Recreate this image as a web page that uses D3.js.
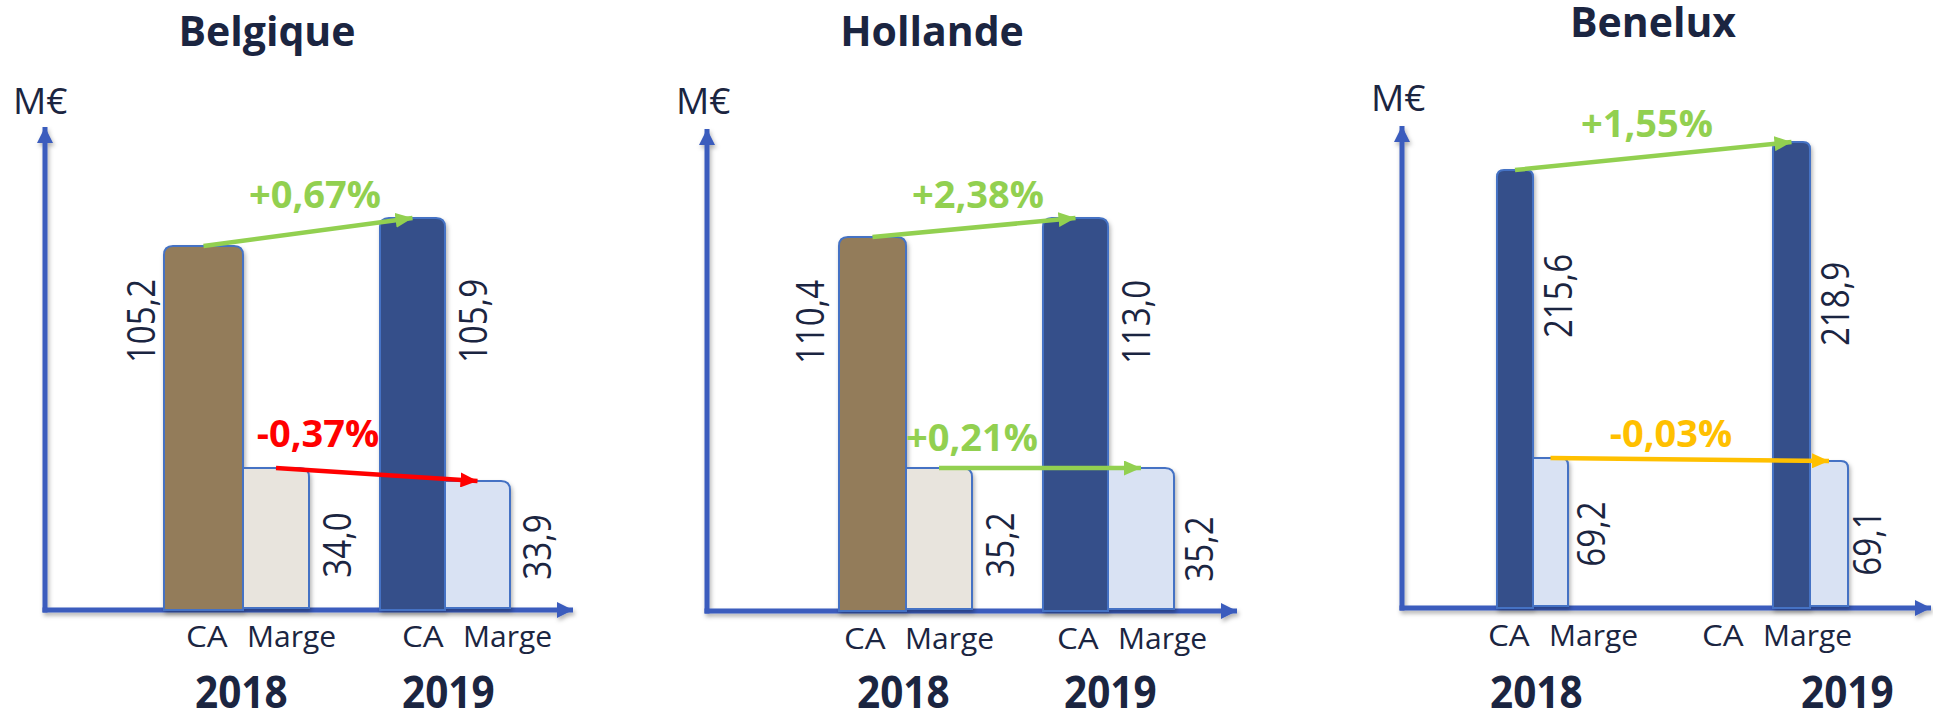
<!DOCTYPE html>
<html>
<head>
<meta charset="utf-8">
<script src="https://cdn.jsdelivr.net/npm/d3@7"></script>
<style>
  html, body { margin: 0; padding: 0; background: #fff; overflow: hidden; }
  svg { display: block; font-family: "Open Sans", "DejaVu Sans", sans-serif; }
</style>
</head>
<body>
<svg id="chart" width="1933" height="711"></svg>
<script>
// ---- data ----
var panels = ["Belgique", "Hollande", "Benelux"];
var years = ["2018", "2019"];
var series = ["CA", "Marge"];
var caValues = [[105.2, 105.9], [110.4, 113.0], [215.6, 218.9]];
var margeValues = [[34.0, 33.9], [35.2, 35.2], [69.2, 69.1]];
var caChange = ["+0,67%", "+2,38%", "+1,55%"];
var margeChange = ["-0,37%", "+0,21%", "-0,03%"];
var unit = "M€";

// ---- layout (positions only, per panel) ----
// the original is schematic: each series uses its own truncated scale
var layout = [
  {x0: 45, y0: 610, yTop: 127, xEnd: 573, titleX: 267, titleY: 46, unitX: 13, unitY: 114,
   barX: [164, 380], caW: [79, 65], mW: [66, 65], r: 9,
   caDomain: [96.1, 105.9], caTop: 218, mDomain: [32.91, 34.0], mTop: 468,
   labels: [[141, 321], [337, 545], [473, 321], [537, 547]],
   pct: [[315, 208], [318, 447]], catX: [186, 402], catY: 647, yearX: [195, 402],
   ca18: "#937c5a", m18: "#e8e4dd"},
  {x0: 707, y0: 611, yTop: 129, xEnd: 1237, titleX: 932, titleY: 46, unitX: 676, unitY: 114,
   barX: [839, 1043], caW: [67, 65], mW: [66, 66], r: 9,
   caDomain: [59.2, 113.0], caTop: 218, mDomain: [0, 35.2], mTop: 468,
   labels: [[810, 322], [1000, 545], [1136, 322], [1199, 549]],
   pct: [[978, 208], [972, 451]], catX: [844, 1057], catY: 649, yearX: [857, 1064],
   ca18: "#937c5a", m18: "#e8e4dd"},
  {x0: 1402, y0: 608, yTop: 126, xEnd: 1931, titleX: 1653, titleY: 37, unitX: 1371, unitY: 111,
   barX: [1497, 1773], caW: [36, 37], mW: [35, 38], r: 7,
   caDomain: [164.0, 218.9], caTop: 142, mDomain: [64.2, 69.2], mTop: 458,
   labels: [[1558, 296], [1591, 534], [1835, 304], [1867, 543]],
   pct: [[1647, 137], [1671, 447]], catX: [1488, 1702], catY: 646, yearX: [1490, 1801],
   ca18: "#34508a", m18: "#d9e2f3"}
];

var navy = "#34508a", lightBlue = "#d9e2f3", textCol = "#1b2541",
    axisCol = "#3a5bbd", barStroke = "#4472c4";

function changeColor(s) {
  var v = parseFloat(s.replace(",", "."));
  if (v > 0) return "#92d050";
  if (v > -0.1) return "#ffc000";
  return "#ff0000";
}

var svg = d3.select("#chart");
var defs = svg.append("defs");

var f = defs.append("filter").attr("id", "shadow")
  .attr("x", "-20%").attr("y", "-20%").attr("width", "140%").attr("height", "140%");
f.append("feDropShadow").attr("dx", 1.5).attr("dy", 3).attr("stdDeviation", 2)
  .attr("flood-color", "#000").attr("flood-opacity", 0.3);

// arrow heads
function marker(id, color, len, wid) {
  defs.append("marker").attr("id", id)
    .attr("markerUnits", "userSpaceOnUse")
    .attr("markerWidth", len).attr("markerHeight", wid)
    .attr("viewBox", "0 0 " + len + " " + wid)
    .attr("refX", len).attr("refY", wid / 2)
    .attr("orient", "auto")
    .append("path").attr("d", "M0,0L" + len + "," + (wid / 2) + "L0," + wid + "Z")
    .attr("fill", color);
}
marker("ax", axisCol, 16, 16);
["#92d050", "#ffc000", "#ff0000"].forEach(function(c) {
  marker("m" + c.slice(1), c, 17, 15);
});

function barPath(x, y, w, h, rl, rr) {
  return "M" + x + "," + (y + h) +
    "V" + (y + rl) + (rl ? "Q" + x + "," + y + " " + (x + rl) + "," + y : "") +
    "H" + (x + w - rr) + (rr ? "Q" + (x + w) + "," + y + " " + (x + w) + "," + (y + rr) : "") +
    "V" + (y + h) + "Z";
}

panels.forEach(function(name, p) {
  var L = layout[p];
  var g = svg.append("g");

  var x = d3.scalePoint().domain(years).range(L.barX);
  var yCA = d3.scaleLinear().domain(L.caDomain).range([L.y0, L.caTop]);
  var yM = d3.scaleLinear().domain(L.mDomain).range([L.y0, L.mTop]);

  // title and unit
  g.append("text").attr("x", L.titleX).attr("y", L.titleY)
    .attr("text-anchor", "middle").attr("font-size", 41).attr("font-weight", 700)
    .attr("fill", textCol).text(name);
  g.append("text").attr("x", L.unitX).attr("y", L.unitY)
    .attr("font-size", 37).attr("fill", textCol).text(unit);

  // axes
  var axes = g.append("g").attr("filter", "url(#shadow)")
    .attr("stroke", axisCol).attr("stroke-width", 5);
  axes.append("line").attr("x1", L.x0).attr("y1", L.y0 + 2.5)
    .attr("x2", L.x0).attr("y2", L.yTop).attr("marker-end", "url(#ax)");
  axes.append("line").attr("x1", L.x0 - 2.5).attr("y1", L.y0)
    .attr("x2", L.xEnd).attr("y2", L.y0).attr("marker-end", "url(#ax)");

  // bars
  var rows = years.map(function(yr, i) {
    return {year: yr, i: i, ca: caValues[p][i], m: margeValues[p][i]};
  });
  var bars = g.append("g").attr("filter", "url(#shadow)")
    .attr("stroke", barStroke).attr("stroke-width", 2);
  bars.selectAll("path.ca").data(rows).enter().append("path").attr("class", "ca")
    .attr("fill", function(d) { return d.i === 0 ? L.ca18 : navy; })
    .attr("d", function(d) {
      var top = yCA(d.ca);
      return barPath(x(d.year), top, L.caW[d.i], L.y0 - top, L.r, L.r);
    });
  bars.selectAll("path.m").data(rows).enter().append("path").attr("class", "m")
    .attr("fill", function(d) { return d.i === 0 ? L.m18 : lightBlue; })
    .attr("d", function(d) {
      var top = yM(d.m);
      return barPath(x(d.year) + L.caW[d.i], top, L.mW[d.i], L.y0 - 2 - top, 0, L.r);
    });

  // value labels
  var labelData = [];
  rows.forEach(function(d) {
    labelData.push(d.ca, d.m);
  });
  g.selectAll("text.val").data(labelData).enter().append("text").attr("class", "val")
    .attr("transform", function(d, i) {
      var c = L.labels[i];
      return "translate(" + (c[0] + 13.5) + "," + c[1] + ") rotate(-90) scale(0.87,1)";
    })
    .attr("text-anchor", "middle").attr("font-size", 38).attr("fill", textCol)
    .text(function(d) { return d.toFixed(1).replace(".", ","); });

  // change arrows
  var arrows = [
    {label: caChange[p], y: yCA, key: "ca", off: function(i) { return L.caW[i] / 2; }},
    {label: margeChange[p], y: yM, key: "m", off: function(i) { return L.caW[i] + L.mW[i] / 2; }}
  ];
  arrows.forEach(function(a, k) {
    var col = changeColor(a.label);
    g.append("line")
      .attr("x1", x(years[0]) + a.off(0)).attr("y1", a.y(rows[0][a.key]))
      .attr("x2", x(years[1]) + a.off(1)).attr("y2", a.y(rows[1][a.key]))
      .attr("stroke", col).attr("stroke-width", 4.5)
      .attr("marker-end", "url(#m" + col.slice(1) + ")");
    g.append("text").attr("x", L.pct[k][0]).attr("y", L.pct[k][1])
      .attr("text-anchor", "middle").attr("font-size", 38).attr("font-weight", 700)
      .attr("fill", col).text(a.label);
  });

  // category and year labels
  years.forEach(function(yr, i) {
    g.append("text").attr("transform", "translate(" + L.catX[i] + "," + L.catY + ") scale(1.1,1)")
      .attr("font-size", 30).attr("fill", textCol).text(series[0]);
    g.append("text").attr("x", L.catX[i] + 61).attr("y", L.catY)
      .attr("font-size", 30).attr("fill", textCol).text(series[1]);
    g.append("text").attr("transform", "translate(" + L.yearX[i] + ",708) scale(0.9,1)")
      .attr("font-size", 45).attr("font-weight", 700).attr("fill", textCol).text(yr);
  });
});
</script>
</body>
</html>
